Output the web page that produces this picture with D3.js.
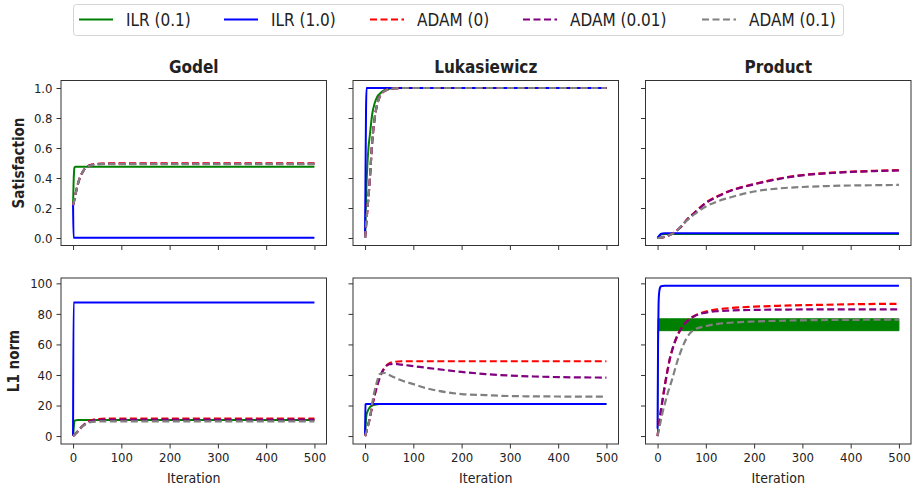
<!DOCTYPE html>
<html>
<head>
<meta charset="utf-8">
<script src="https://cdn.jsdelivr.net/npm/d3@7"></script>
<style>
body { margin: 0; background: #fff; }
svg text { font-family: "DejaVu Sans Condensed", "DejaVu Sans", sans-serif; fill: #222; }
</style>
</head>
<body>
<svg width="914" height="488"></svg>
<script>
// data
const iterations = [0, 1, 2, 3, 5, 7, 10, 15, 20, 25, 30, 40, 50, 60, 75, 100, 125, 150, 200, 250, 300, 350, 400, 450, 500];

const seriesNames = ["ILR (0.1)", "ILR (1.0)", "ADAM (0)", "ADAM (0.01)", "ADAM (0.1)"];
const columnTitles = ["Godel", "Lukasiewicz", "Product"];
const rowLabels = ["Satisfaction", "L1 norm"];
const xTicks = [0, 100, 200, 300, 400, 500];
const satTicks = [0, 0.2, 0.4, 0.6, 0.8, 1.0];
const normTicks = [0, 20, 40, 60, 80, 100];

// each panel: [ILR 0.1, ILR 1.0, ADAM 0, ADAM 0.01, ADAM 0.1]
const godelSat = [
  [0.22, 0.36, 0.44, 0.47, 0.475, 0.475, 0.475, 0.475, 0.475, 0.475, 0.475, 0.475, 0.475, 0.475, 0.475, 0.475, 0.475, 0.475, 0.475, 0.475, 0.475, 0.475, 0.475, 0.475, 0.475],
  [0.22, 0.002, 0.002, 0.002, 0.002, 0.002, 0.002, 0.002, 0.002, 0.002, 0.002, 0.002, 0.002, 0.002, 0.002, 0.002, 0.002, 0.002, 0.002, 0.002, 0.002, 0.002, 0.002, 0.002, 0.002],
  [0.22, 0.23, 0.245, 0.26, 0.29, 0.32, 0.36, 0.41, 0.44, 0.465, 0.478, 0.49, 0.494, 0.496, 0.497, 0.498, 0.498, 0.498, 0.498, 0.498, 0.498, 0.498, 0.498, 0.498, 0.498],
  [0.22, 0.23, 0.245, 0.26, 0.29, 0.32, 0.36, 0.41, 0.44, 0.465, 0.477, 0.488, 0.492, 0.494, 0.495, 0.495, 0.495, 0.495, 0.495, 0.495, 0.495, 0.495, 0.495, 0.495, 0.495],
  [0.22, 0.23, 0.245, 0.26, 0.29, 0.32, 0.36, 0.41, 0.44, 0.464, 0.476, 0.486, 0.49, 0.492, 0.493, 0.493, 0.493, 0.493, 0.493, 0.493, 0.493, 0.493, 0.493, 0.493, 0.493]
];
const godelNorm = [
  [0, 4, 8, 10, 10.3, 10.4, 10.5, 10.5, 10.5, 10.5, 10.5, 10.5, 10.5, 10.5, 10.5, 10.5, 10.5, 10.5, 10.5, 10.5, 10.5, 10.5, 10.5, 10.5, 10.5],
  [0, 87.5, 87.5, 87.5, 87.5, 87.5, 87.5, 87.5, 87.5, 87.5, 87.5, 87.5, 87.5, 87.5, 87.5, 87.5, 87.5, 87.5, 87.5, 87.5, 87.5, 87.5, 87.5, 87.5, 87.5],
  [0, 0.3, 0.6, 0.9, 1.5, 2.2, 3.2, 5, 6.7, 8, 9.2, 10.5, 11.1, 11.3, 11.4, 11.5, 11.5, 11.5, 11.5, 11.5, 11.5, 11.5, 11.5, 11.5, 11.5],
  [0, 0.3, 0.6, 0.9, 1.5, 2.2, 3.2, 5, 6.6, 7.9, 9, 10.2, 10.6, 10.7, 10.8, 10.8, 10.8, 10.8, 10.8, 10.8, 10.8, 10.8, 10.8, 10.8, 10.8],
  [0, 0.3, 0.6, 0.9, 1.5, 2.2, 3.2, 4.9, 6.4, 7.5, 8.5, 9.3, 9.5, 9.6, 9.6, 9.6, 9.6, 9.6, 9.6, 9.6, 9.6, 9.6, 9.6, 9.6, 9.6]
];
const lukaSat = [
  [0, 0.12, 0.25, 0.36, 0.5, 0.6, 0.69, 0.83, 0.9, 0.94, 0.96, 0.985, 0.995, 1, 1, 1, 1, 1, 1, 1, 1, 1, 1, 1, 1],
  [0, 0.45, 0.85, 1, 1, 1, 1, 1, 1, 1, 1, 1, 1, 1, 1, 1, 1, 1, 1, 1, 1, 1, 1, 1, 1],
  [0, 0.04, 0.08, 0.12, 0.2, 0.27, 0.4, 0.65, 0.8, 0.89, 0.94, 0.98, 0.993, 0.998, 1, 1, 1, 1, 1, 1, 1, 1, 1, 1, 1],
  [0, 0.04, 0.08, 0.12, 0.2, 0.27, 0.4, 0.65, 0.8, 0.89, 0.94, 0.98, 0.993, 0.998, 1, 1, 1, 1, 1, 1, 1, 1, 1, 1, 1],
  [0, 0.04, 0.08, 0.12, 0.2, 0.27, 0.4, 0.65, 0.8, 0.89, 0.94, 0.98, 0.993, 0.998, 1, 1, 1, 1, 1, 1, 1, 1, 1, 1, 1]
];
const lukaNorm = [
  [0, 6, 11, 14, 16, 17.5, 19, 20, 20.5, 20.8, 21, 21, 21, 21, 21, 21, 21, 21, 21, 21, 21, 21, 21, 21, 21],
  [0, 20.7, 21, 21, 21, 21, 21, 21, 21, 21, 21, 21, 21, 21, 21, 21, 21, 21, 21, 21, 21, 21, 21, 21, 21],
  [0, 1, 2, 3, 5.5, 8, 12, 20, 27, 33, 38, 44.5, 47.5, 48.5, 49, 49, 49, 49, 49, 49, 49, 49, 49, 49, 49],
  [0, 1, 2, 3, 5.5, 8, 12, 20, 27, 33, 38, 44.5, 47, 47.3, 46.8, 45.8, 44.8, 43.8, 42, 40.6, 39.6, 39, 38.6, 38.4, 38.3],
  [0, 1, 2, 3, 5.5, 8, 12, 22, 30, 36, 40.5, 41.3, 40, 38.5, 36.5, 34, 31.5, 29.7, 27.5, 26.8, 26.2, 26, 25.9, 25.8, 25.8]
];
const prodSat = [
  [0, 0.004, 0.008, 0.012, 0.018, 0.022, 0.025, 0.026, 0.026, 0.026, 0.026, 0.026, 0.026, 0.026, 0.026, 0.026, 0.026, 0.026, 0.026, 0.026, 0.026, 0.026, 0.026, 0.026, 0.026],
  [0, 0.005, 0.01, 0.015, 0.022, 0.027, 0.03, 0.031, 0.031, 0.031, 0.031, 0.031, 0.031, 0.031, 0.031, 0.031, 0.031, 0.031, 0.031, 0.031, 0.031, 0.031, 0.031, 0.031, 0.031],
  [0, 0, 0, 0, 0.001, 0.002, 0.004, 0.008, 0.013, 0.02, 0.028, 0.05, 0.08, 0.12, 0.165, 0.235, 0.28, 0.315, 0.36, 0.395, 0.42, 0.433, 0.442, 0.448, 0.452],
  [0, 0, 0, 0, 0.001, 0.002, 0.004, 0.008, 0.013, 0.02, 0.028, 0.05, 0.079, 0.118, 0.163, 0.233, 0.278, 0.313, 0.358, 0.393, 0.418, 0.431, 0.44, 0.446, 0.45],
  [0, 0, 0, 0, 0.001, 0.002, 0.004, 0.008, 0.013, 0.02, 0.027, 0.048, 0.085, 0.115, 0.155, 0.21, 0.245, 0.27, 0.31, 0.33, 0.34, 0.346, 0.35, 0.352, 0.354]
];
const prodNorm = [
  null,
  [4.8, 60, 85, 93, 97, 98, 98.3, 98.5, 98.5, 98.5, 98.5, 98.5, 98.5, 98.5, 98.5, 98.5, 98.5, 98.5, 98.5, 98.5, 98.5, 98.5, 98.5, 98.5, 98.5],
  [0, 2.5, 5, 7.5, 12, 17, 23, 33, 42, 50, 56, 65, 71, 75, 78.5, 81.5, 83, 83.8, 84.7, 85.3, 85.7, 86, 86.3, 86.5, 86.6],
  [0, 2.5, 5, 7.5, 12, 17, 23, 33, 42, 50, 56, 65, 71, 74.8, 78.3, 80.8, 81.8, 82.2, 82.6, 82.8, 82.9, 83, 83, 83, 83],
  [0, 1.5, 3, 4.5, 7.5, 10.5, 15, 21, 27, 32, 37, 48, 57, 64, 69.5, 72, 73.5, 74.2, 75, 75.5, 75.8, 76, 76.1, 76.2, 76.3]
];
// ILR (0.1) on Product L1 oscillates every step: drawn as a band
const prodNormGreenLow = [0, 69, 69, 69, 69, 69, 69, 69, 69, 69, 69, 69, 69, 69, 69, 69, 69, 69, 69, 69, 69, 69, 69, 69, 69];
const prodNormGreenHigh = [0, 76.8, 76.8, 76.8, 76.8, 76.8, 76.8, 76.8, 76.8, 76.8, 76.8, 76.8, 76.8, 76.8, 76.8, 76.8, 76.8, 76.8, 76.8, 76.8, 76.8, 76.8, 76.8, 76.8, 76.8];

const colors = ["green", "blue", "red", "purple", "gray"];
const dashed = [false, false, true, true, true];

const svg = d3.select("svg");

const colLeft = [61, 353, 645.5];
const panelW = 265.5;
const rowTop = [80.5, 278];
const panelH = [165, 166];

const x = d3.scaleLinear().domain([-25, 525]).range([0, panelW]);
const yScales = [
  d3.scaleLinear().domain([-0.05, 1.05]).range([panelH[0], 0]),
  d3.scaleLinear().domain([-5.2, 103.5]).range([panelH[1], 0])
];

const panels = [
  [godelSat, lukaSat, prodSat],
  [godelNorm, lukaNorm, prodNorm]
];

function styleAxis(g) {
  g.select(".domain").remove();
  g.selectAll(".tick line").attr("stroke", "#333").attr("stroke-width", 1);
  g.selectAll(".tick text").attr("font-size", 13).attr("fill", "#222")
    .attr("font-family", null);
  g.attr("font-family", null);
}

panels.forEach(function(row, r) {
  const y = yScales[r];
  const h = panelH[r];
  row.forEach(function(series, c) {
    const g = svg.append("g").attr("transform", `translate(${colLeft[c]},${rowTop[r]})`);

    const xAxis = d3.axisBottom(x).tickValues(xTicks).tickSize(4.5).tickPadding(4);
    if (r == 0) xAxis.tickFormat("");
    g.append("g").attr("transform", `translate(0,${h})`).call(xAxis).call(styleAxis);

    const yAxis = d3.axisLeft(y).tickValues(r == 0 ? satTicks : normTicks).tickSize(4.5).tickPadding(4)
      .tickFormat(r == 0 ? d3.format(".1f") : d3.format("d"));
    if (c > 0) yAxis.tickFormat("");
    g.append("g").call(yAxis).call(styleAxis);

    // green band on product / L1
    if (r == 1 && c == 2) {
      const band = d3.area()
        .x((d, i) => x(iterations[i]))
        .y0((d, i) => y(prodNormGreenLow[i]))
        .y1((d, i) => y(prodNormGreenHigh[i]));
      g.append("path").datum(prodNormGreenLow)
        .attr("d", band).attr("fill", colors[0]).attr("stroke", colors[0]).attr("stroke-width", 1);
    }

    series.forEach(function(vals, k) {
      if (!vals) return;
      const line = d3.line()
        .x((d, i) => x(iterations[i]))
        .y(d => y(d))
        .curve(d3.curveMonotoneX);
      g.append("path").datum(vals)
        .attr("d", line)
        .attr("fill", "none")
        .attr("stroke", colors[k])
        .attr("stroke-width", dashed[k] ? 2.2 : 2)
        .attr("stroke-dasharray", dashed[k] ? "7,3.5" : null);
    });

    g.append("rect").attr("width", panelW).attr("height", h)
      .attr("fill", "none").attr("stroke", "#333").attr("stroke-width", 1);

    if (r == 0) {
      svg.append("text").attr("x", colLeft[c] + panelW / 2).attr("y", 73)
        .attr("text-anchor", "middle").attr("font-size", 17).attr("font-weight", "bold")
        .text(columnTitles[c]);
    } else {
      svg.append("text").attr("x", colLeft[c] + panelW / 2).attr("y", 483)
        .attr("text-anchor", "middle").attr("font-size", 14)
        .text("Iteration");
    }
  });
});

// row labels
const rowLabelX = [23.5, 18.5];
rowLabels.forEach(function(t, r) {
  svg.append("text")
    .attr("transform", `translate(${rowLabelX[r]},${rowTop[r] + panelH[r] / 2}) rotate(-90)`)
    .attr("text-anchor", "middle").attr("font-size", 15).attr("font-weight", "bold")
    .text(t);
});

// legend
const legendX = [79, 224, 370, 523, 702];
const legend = svg.append("g");
legend.append("rect").attr("x", 73.5).attr("y", 4.5).attr("width", 770).attr("height", 31)
  .attr("rx", 3).attr("fill", "#fff").attr("stroke", "#d5d5d5");
seriesNames.forEach(function(name, k) {
  legend.append("line")
    .attr("x1", legendX[k]).attr("x2", legendX[k] + 34)
    .attr("y1", 19.5).attr("y2", 19.5)
    .attr("stroke", colors[k]).attr("stroke-width", 2)
    .attr("stroke-dasharray", dashed[k] ? "7,3.5" : null);
  legend.append("text")
    .attr("x", legendX[k] + 47).attr("y", 25.5)
    .attr("font-size", 17)
    .text(name);
});
</script>
</body>
</html>
